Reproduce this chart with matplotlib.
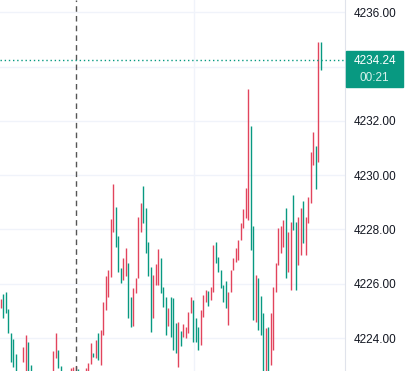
import matplotlib.pyplot as plt
from matplotlib.patches import Rectangle

# candle open / close (index = bar number)
opens = [
    4225.10, 4225.62, 4225.69, 4225.07, 4224.18, 4223.96, 4223.41, 4222.60, 4222.30, 4223.12,
    4222.64, 4223.85, 4223.01, 4222.50, 4222.00, 4222.40, 4221.80, 4222.30, 4221.90, 4222.30,
    4222.70, 4222.64, 4223.26, 4223.56, 4222.97, 4222.50, 4222.10, 4222.50, 4222.40, 4222.50,
    4222.60, 4222.86, 4222.50, 4222.20, 4222.50, 4222.60, 4223.04, 4223.45, 4223.26, 4224.18,
    4223.01, 4224.11, 4225.03, 4225.51, 4226.25, 4227.90, 4228.82, 4227.76, 4226.58, 4226.14,
    4226.28, 4226.76, 4225.51, 4224.44, 4225.66, 4226.21, 4227.90, 4229.60, 4228.79, 4227.54,
    4226.61, 4224.74, 4225.95, 4225.95, 4226.95, 4225.88, 4225.51, 4224.44, 4225.51, 4225.47,
    4224.55, 4222.93, 4224.26, 4224.04, 4224.00, 4224.18, 4224.92, 4225.40, 4224.74, 4224.41,
    4223.74, 4224.77, 4225.33, 4225.73, 4225.40, 4225.69, 4227.54, 4226.98, 4226.50, 4225.95,
    4226.10, 4224.48, 4225.69, 4226.50, 4226.80, 4226.87, 4227.61, 4228.05, 4228.42, 4228.35,
    4231.81, 4228.12, 4224.59, 4226.21, 4225.55, 4224.92, 4222.50, 4224.41, 4223.01, 4223.56,
    4225.69, 4226.69, 4227.13, 4227.35, 4228.79, 4226.43, 4225.77, 4229.27, 4228.27, 4226.69,
    4227.06, 4229.05, 4227.06, 4228.24, 4228.97, 4230.37, 4231.07, 4230.48, 4234.90,
]
closes = [
    4225.44, 4224.74, 4224.92, 4224.18, 4223.12, 4222.93, 4222.45, 4222.20, 4222.70, 4223.67,
    4224.11, 4222.53, 4222.45, 4222.00, 4222.40, 4221.80, 4222.30, 4221.90, 4222.50, 4222.70,
    4222.20, 4223.52, 4224.18, 4222.90, 4222.53, 4222.10, 4222.50, 4222.20, 4222.90, 4222.93,
    4222.97, 4222.50, 4222.20, 4222.60, 4222.90, 4223.08, 4223.82, 4223.30, 4223.93, 4223.19,
    4224.29, 4225.33, 4226.28, 4226.50, 4228.38, 4229.67, 4227.35, 4226.43, 4226.03, 4226.95,
    4227.31, 4224.74, 4224.41, 4225.84, 4226.21, 4228.46, 4228.97, 4228.24, 4227.13, 4226.28,
    4224.22, 4226.32, 4226.73, 4227.28, 4225.66, 4225.14, 4224.11, 4225.10, 4224.04, 4223.56,
    4223.45, 4224.59, 4223.71, 4224.52, 4224.41, 4224.96, 4225.51, 4223.85, 4223.85, 4223.56,
    4225.03, 4225.58, 4225.77, 4225.18, 4225.88, 4227.43, 4226.76, 4226.43, 4225.84, 4225.33,
    4225.10, 4225.69, 4226.50, 4226.95, 4227.31, 4227.61, 4228.24, 4228.75, 4229.52, 4233.17,
    4227.24, 4224.66, 4226.32, 4224.29, 4224.11, 4222.53, 4224.37, 4222.50, 4224.92, 4225.88,
    4226.76, 4228.05, 4228.12, 4228.35, 4226.21, 4227.90, 4228.27, 4227.98, 4225.77, 4228.46,
    4228.79, 4227.50, 4228.46, 4229.19, 4230.85, 4231.59, 4229.49, 4234.90, 4233.87,
]
last_price = 4234.24
countdown = "00:21"
price_ticks = [4224, 4226, 4228, 4230, 4232, 4234, 4236]

up_color = "#e2445c"
down_color = "#089981"

fig = plt.figure(figsize=(4.08, 3.71), dpi=100)
ax = fig.add_axes([0, 0, 345 / 408, 1])

x = list(range(len(opens)))
lows = [min(o, c) for o, c in zip(opens, closes)]
highs = [max(o, c) for o, c in zip(opens, closes)]
colors = [up_color if c >= o else down_color for o, c in zip(opens, closes)]
ax.vlines(x, lows, highs, colors=colors, linewidth=1.0, zorder=3)

ax.set_xlim(-0.28, 137.72)
ax.set_ylim(4222.785, 4236.45)

# grid
for t in price_ticks:
    ax.axhline(t, color="#f0f3fa", linewidth=1, zorder=0)
ax.axvline(77.3, color="#f0f3fa", linewidth=1, zorder=0)

# crosshair + last price line
ax.axvline(30, color="#555555", linewidth=1, linestyle=(0, (4, 3)), zorder=4)
ax.axhline(last_price, color=down_color, linewidth=1, linestyle=(0, (1, 2)), zorder=4)

# the 4234 label sits under the price box, so leave it blank
tick_labels = ["" if t == 4234 else f"{t:.2f}" for t in price_ticks]
ax.set_xticks([])
ax.yaxis.tick_right()
ax.set_yticks(price_ticks)
ax.set_yticklabels(tick_labels, fontsize=8.5, family="Liberation Sans", color="#131722")
for lab in ax.get_yticklabels():
    lab.set_horizontalalignment("left")
ax.tick_params(axis="y", length=0, pad=6.5)
for side in ["top", "left", "bottom"]:
    ax.spines[side].set_visible(False)
ax.spines["right"].set_color("#e0e3eb")

# price label box on the scale
fig.add_artist(Rectangle((346 / 408, 1 - 87 / 371), 57 / 408, 36 / 371,
                         transform=fig.transFigure, color=down_color, zorder=10))
fig.text(374.5 / 408, 1 - 60.5 / 371, f"{last_price:.2f}", color="white", fontsize=8.5,
         family="Liberation Sans", ha="center", va="center", zorder=11)
fig.text(374.5 / 408, 1 - 78 / 371, countdown, color="#d8f2ec", fontsize=8.5,
         family="Liberation Sans", ha="center", va="center", zorder=11)

plt.savefig("out.png", dpi=100)
